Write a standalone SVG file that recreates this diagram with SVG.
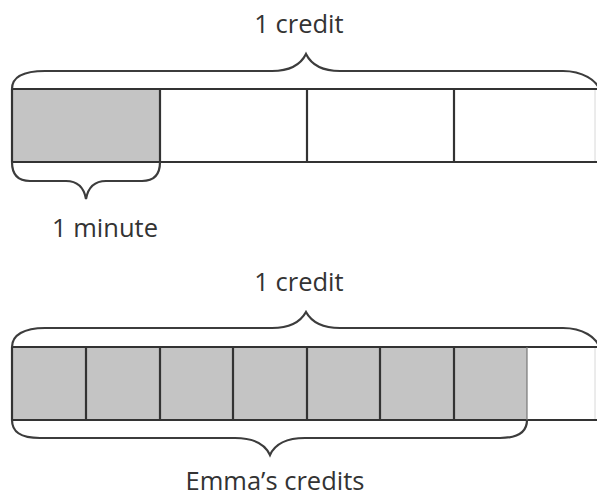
<svg xmlns="http://www.w3.org/2000/svg" width="597" height="497" viewBox="0 0 597 497">
<style>
  .ln { fill: none; stroke: #333; stroke-width: 2.2; }
  .br { fill: none; stroke: #3c3c3c; stroke-width: 2.2; }
  .sh { fill: #c4c4c4; stroke: none; }
  .edge { stroke: #d8d8d8; stroke-width: 1; }
  .lbl { font-family: "Open Sans", "Liberation Sans", sans-serif; font-size: 25.5px; fill: #333; text-anchor: middle; }
</style>
<rect width="597" height="497" fill="#ffffff"/>

<g id="bar1">
  <rect class="sh" x="12" y="89" width="148" height="73"/>
  <line class="edge" x1="595" y1="89" x2="595" y2="162"/>
  <line class="ln" x1="12" y1="89" x2="597" y2="89"/>
  <line class="ln" x1="12" y1="162" x2="597" y2="162"/>
  <line class="ln" x1="12" y1="89" x2="12" y2="162"/>
  <line class="ln" x1="160" y1="89" x2="160" y2="162"/>
  <line class="ln" x1="307" y1="89" x2="307" y2="162"/>
  <line class="ln" x1="454" y1="89" x2="454" y2="162"/>
</g>

<g id="bar2">
  <rect class="sh" x="12" y="347" width="515" height="73"/>
  <line class="edge" x1="595" y1="347" x2="595" y2="420"/>
  <line class="ln" x1="12" y1="347" x2="597" y2="347"/>
  <line class="ln" x1="12" y1="420" x2="597" y2="420"/>
  <line class="ln" x1="12" y1="347" x2="12" y2="420"/>
  <line class="ln" x1="86" y1="347" x2="86" y2="420"/>
  <line class="ln" x1="160" y1="347" x2="160" y2="420"/>
  <line class="ln" x1="233" y1="347" x2="233" y2="420"/>
  <line class="ln" x1="307" y1="347" x2="307" y2="420"/>
  <line class="ln" x1="380" y1="347" x2="380" y2="420"/>
  <line class="ln" x1="454" y1="347" x2="454" y2="420"/>
  <line class="ln" x1="527" y1="347" x2="527" y2="420" style="stroke-width:1.2;stroke:#777"/>
</g>

<g id="connectors">
  <path id="brace1-top" class="br" d="M12,89 C12,77 24,71 45,71 L272,71 C292,71 301,64 306,54 C311,64 320,71 340,71 L563,71 C582,71 597,80 600,91"/>
  <path id="brace1-bottom" class="br" d="M12,162 C12,174 17,181 30,181 L66,181 C78,181 84,188 86,199 C88,188 94,181 106,181 L142,181 C155,181 160,174 160,162"/>
  <path id="brace2-top" class="br" d="M12,347 C12,335 24,328 45,328 L272,328 C292,328 301,321 306,312 C311,321 320,328 340,328 L563,328 C582,328 597,337 600,349"/>
  <path id="brace2-bottom" class="br" d="M12,420 C12,432 20,438 40,438 L235,438 C255,438 265,444 270,455 C275,444 285,438 305,438 L500,438 C518,438 527,432 527,420"/>
</g>

<g id="label-credit1"><text class="lbl" x="299" y="33">1 credit</text></g>
<g id="label-minute"><text class="lbl" x="105" y="237">1 minute</text></g>
<g id="label-credit2"><text class="lbl" x="299" y="291">1 credit</text></g>
<g id="label-emma"><text class="lbl" x="275" y="490">Emma’s credits</text></g>
</svg>
